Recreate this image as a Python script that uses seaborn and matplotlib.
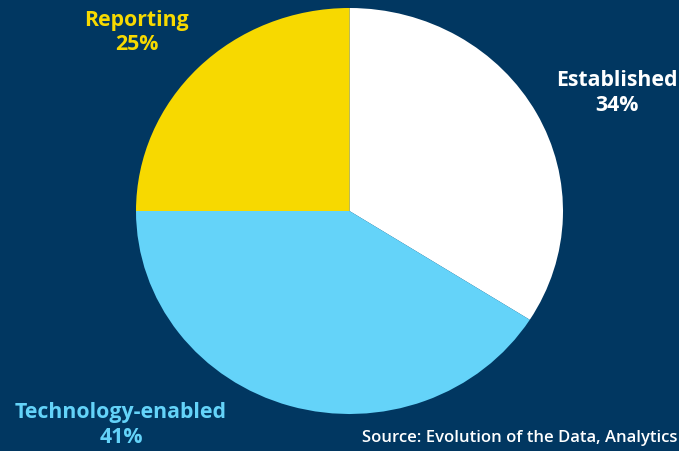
import matplotlib
matplotlib.use("Agg")
import matplotlib.pyplot as plt
import seaborn as sns

categories = ["Established", "Technology-enabled", "Reporting"]
shares = [34, 41, 25]
slice_colors = ["#FFFFFF", "#64D3F9", "#F7D900"]
label_colors = ["#FFFFFF", "#64D3F9", "#F7D900"]
source_text = "Source: Evolution of the Data, Analytics"

BG = "#013761"

sns.set_theme(style="white")
plt.rcParams['font.family'] = ['Open Sans', 'DejaVu Sans']

W, H = 679, 452
fig = plt.figure(figsize=(W / 100, H / 100), dpi=100, facecolor=BG)

# pie axes: slightly elliptical as in the reference
cx, cy, rx, ry = 349.5, 212, 213.5, 203
ax = fig.add_axes([(cx - rx) / W, 1 - (cy + ry) / H, 2 * rx / W, 2 * ry / H])
ax.set_facecolor(BG)
ax.pie(shares, colors=slice_colors, startangle=90, counterclock=False,
       radius=1, wedgeprops=dict(linewidth=0))
ax.set_xlim(-1, 1)
ax.set_ylim(-1, 1)
ax.set_aspect("auto")
ax.axis("off")

# labels (pixel positions from the reference)
label_pos = {"Established": (617, 93), "Technology-enabled": (121, 425), "Reporting": (137, 32.5)}
for cat, val, col in zip(categories, shares, label_colors):
    x, y = label_pos[cat]
    fig.text(x / W, 1 - y / H, f"{cat}\n{val}%", ha="center", va="center",
             color=col, fontsize=15.3, fontweight="bold", linespacing=1.2)

fig.text(677 / W, 1 - 438 / H, source_text, ha="right", va="center",
         color="white", fontsize=12, fontweight="semibold")

fig.savefig("out.png", dpi=100, facecolor=BG)
